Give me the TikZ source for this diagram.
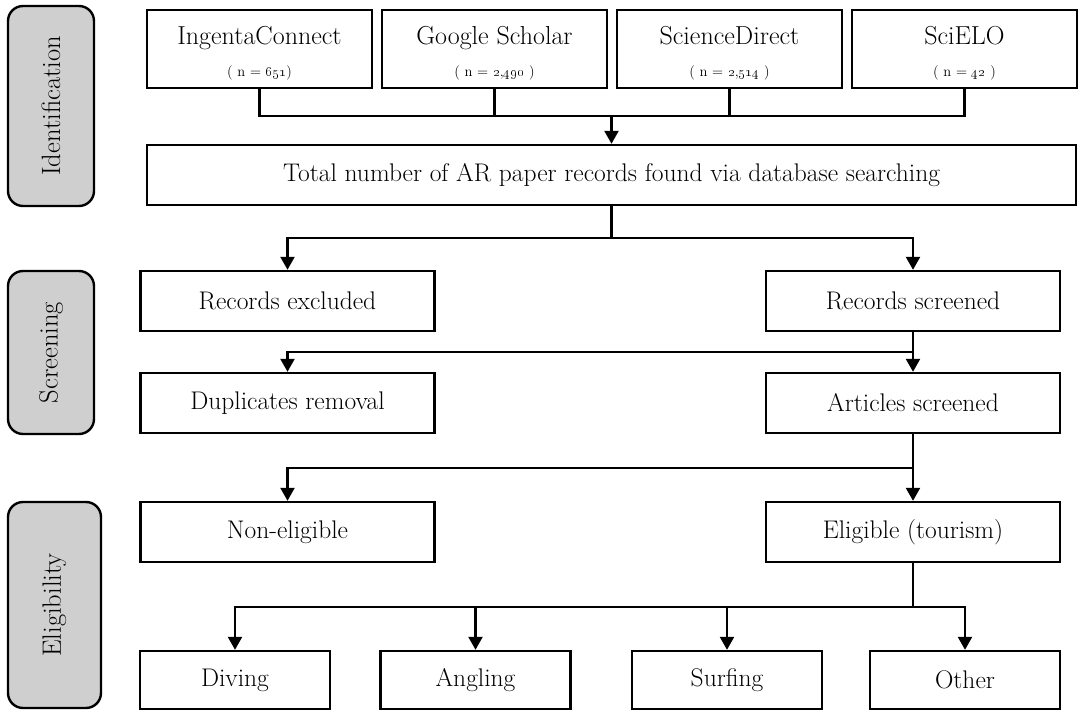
\documentclass[tikz,border=0pt]{standalone}
\usetikzlibrary{arrows.meta}
\definecolor{sidegray}{RGB}{208,207,208}
\begin{document}
\begin{tikzpicture}[x=1pt,y=-1pt,
  box/.style={draw, line width=2.4pt, inner sep=0pt, minimum height=60, font=\fontsize{25.5}{29}\selectfont},
  src/.style={box, minimum width=225, minimum height=78, align=center, font=\fontsize{26}{29}\selectfont},
  wide/.style={box, minimum width=294},
  leaf/.style={box, minimum width=190, minimum height=58},
  side/.style={draw, line width=2.4pt, fill=sidegray, rounded corners=15pt, rotate=90, inner sep=0pt, font=\fontsize{26.5}{30}\selectfont},
  conn/.style={line width=2.4pt},
  arr/.style={line width=2.4pt, -{Triangle[length=13pt,width=14pt]}}
]
\useasboundingbox (0,0) rectangle (1080,711);
% side labels
\node[side, minimum width=200, minimum height=86] (sid) at (51,106) {Identification};
\node[side, minimum width=163, minimum height=86] (sscr) at (51,352.5) {Screening};
\node[side, minimum width=206, minimum height=93] (selig) at (54.5,605) {Eligibility};
% sources
\newcommand{\srcn}[1]{{\fontsize{14.5}{16}\selectfont #1}}
\node[src] (ingenta) at (259.5,49) {\rule{0pt}{27pt}IngentaConnect\\[3pt]\srcn{( n = \oldstylenums{651})}};
\node[src] (google) at (494.5,49) {\rule{0pt}{27pt}Google Scholar\\[3pt]\srcn{( n = \oldstylenums{2},\oldstylenums{490} )}};
\node[src] (sd) at (729.5,49) {\rule{0pt}{27pt}ScienceDirect\\[3pt]\srcn{( n = \oldstylenums{2},\oldstylenums{514} )}};
\node[src] (scielo) at (964.5,49) {\rule{0pt}{27pt}SciELO\\[3pt]\srcn{( n = \oldstylenums{42} )}};
% main
\node[box, minimum width=929] (total) at (611.5,175) {Total number of AR paper records found via database searching};
\node[wide] (excl) at (287.5,301) {Records excluded};
\node[wide] (scr) at (913,301) {Records screened};
\node[wide] (dup) at (287.5,403) {Duplicates removal};
\node[wide] (art) at (913,403) {Articles screened};
\node[wide] (nonel) at (287.5,532) {Non-eligible};
\node[wide] (elig) at (913,532) {Eligible (tourism)};
\node[leaf] (diving) at (235,680) {Diving};
\node[leaf] (angling) at (475.5,680) {Angling};
\node[leaf] (surfing) at (727,680) {Surfing};
\node[leaf] (other) at (965,680) {Other};
% junctions
\coordinate (j1) at (611.5,116);
\coordinate (j2) at (611.5,238);
\coordinate (j3) at (913,352);
\coordinate (j4) at (913,468);
\coordinate (j5) at (913,607);
% connectors
\draw[conn] (ingenta.south) -- (ingenta.south |- j1) -- (scielo.south |- j1) -- (scielo.south);
\draw[conn] (google.south) -- (google.south |- j1);
\draw[conn] (sd.south) -- (sd.south |- j1);
\draw[arr] (j1) -- (total.north);
\draw[conn] (total.south) -- (j2);
\draw[arr] (j2) -| (excl.north);
\draw[arr] (j2) -| (scr.north);
\draw[arr] (scr.south) -- (art.north);
\draw[arr] (j3) -| (dup.north);
\draw[conn] (art.south) -- (j4);
\draw[arr] (j4) -| (nonel.north);
\draw[arr] (j4) -- (elig.north);
\draw[conn] (elig.south) -- (j5);
\draw[arr] (j5) -| (diving.north);
\draw[arr] (j5) -| (angling.north);
\draw[arr] (j5) -| (surfing.north);
\draw[arr] (j5) -| (other.north);
\end{tikzpicture}
\end{document}
